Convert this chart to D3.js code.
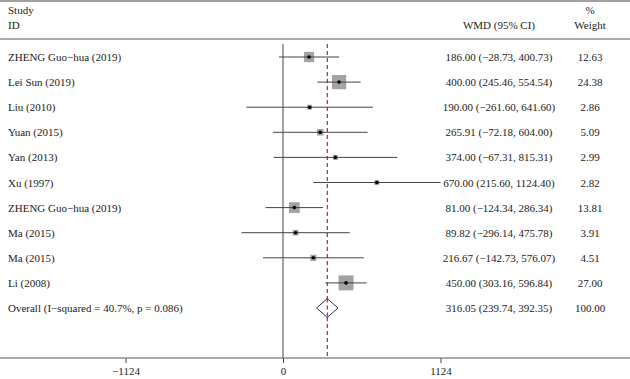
<!DOCTYPE html>
<html><head><meta charset="utf-8">
<script src="https://cdn.jsdelivr.net/npm/d3@7"></script>
<style>body{margin:0;background:#fff}svg{display:block}text{font-family:"Liberation Serif","DejaVu Serif",serif;font-size:11px;fill:#222}</style>
</head><body><svg id="c" width="630" height="379"></svg>
<script>
const studies = ["ZHENG Guo\u2212hua (2019)","Lei Sun (2019)","Liu (2010)","Yuan (2015)","Yan (2013)","Xu (1997)","ZHENG Guo\u2212hua (2019)","Ma (2015)","Ma (2015)","Li (2008)"];
const wmd = [186.00,400.00,190.00,265.91,374.00,670.00,81.00,89.82,216.67,450.00];
const lower = [-28.73,245.46,-261.60,-72.18,-67.31,215.60,-124.34,-296.14,-142.73,303.16];
const upper = [400.73,554.54,641.60,604.00,815.31,1124.40,286.34,475.78,576.07,596.84];
const weights = [12.63,24.38,2.86,5.09,2.99,2.82,13.81,3.91,4.51,27.00];
const overall = {label:"Overall (I\u2212squared = 40.7%, p = 0.086)", est:316.05, lo:239.74, hi:392.35, w:100.00};
const tickValues = [-1124,0,1124];

const svg = d3.select("#c");
const fmt = v => (v<0?"\u2212":"") + Math.abs(v).toFixed(2);
const x = d3.scaleLinear().domain([-1124,1124]).range([125.5,440.5]);
const rowIdx = d3.range(studies.length+1);
const y = d3.scalePoint().domain(rowIdx).range([57,308]);
const size = d3.scaleSqrt().domain([0,27]).range([0,15]);

// frame lines
svg.append("line").attr("x1",0).attr("x2",630).attr("y1",1).attr("y2",1).attr("stroke","#444").attr("stroke-width",1.2);
svg.append("line").attr("x1",0).attr("x2",630).attr("y1",39).attr("y2",39).attr("stroke","#555").attr("stroke-width",1);

// headers
svg.append("text").attr("x",8).attr("y",14).text("Study");
svg.append("text").attr("x",8).attr("y",29).text("ID");
svg.append("text").attr("x",499).attr("y",29).attr("text-anchor","middle").text("WMD (95% CI)");
svg.append("text").attr("x",590).attr("y",14).attr("text-anchor","middle").text("%");
svg.append("text").attr("x",590).attr("y",29).attr("text-anchor","middle").text("Weight");

// axis
const axisY = 358;
const ax = svg.append("g").attr("transform",`translate(0,${axisY})`)
  .call(d3.axisBottom(x).tickValues(tickValues).tickFormat(d=>d<0?"\u2212"+Math.abs(d):d).tickSize(5).tickPadding(4));
ax.select(".domain").remove();
ax.selectAll(".tick line").attr("stroke","#444");
ax.selectAll(".tick text").style("font-family","Liberation Serif, serif").style("font-size","11px").attr("fill","#222");
svg.append("line").attr("x1",0).attr("x2",630).attr("y1",axisY).attr("y2",axisY).attr("stroke","#555").attr("stroke-width",1);

// zero line & overall dashed line
svg.append("line").attr("x1",x(0)).attr("x2",x(0)).attr("y1",44).attr("y2",axisY).attr("stroke","#666").attr("stroke-width",1.2);
svg.append("line").attr("x1",x(overall.est)).attr("x2",x(overall.est)).attr("y1",44).attr("y2",axisY)
  .attr("stroke","#8b2230").attr("stroke-width",1.1).attr("stroke-dasharray","4,3");

// study rows
const rows = svg.append("g").selectAll("g").data(studies.map((s,i)=>({s,i,e:wmd[i],lo:lower[i],hi:upper[i],w:weights[i]}))).join("g");
rows.append("text").attr("x",8).attr("y",d=>y(d.i)+4).text(d=>d.s);
rows.append("rect").attr("x",d=>x(d.e)-size(d.w)/2).attr("y",d=>y(d.i)-size(d.w)/2)
  .attr("width",d=>size(d.w)).attr("height",d=>size(d.w)).attr("fill","#a3a3a3");
rows.append("line").attr("x1",d=>x(d.lo)).attr("x2",d=>x(d.hi)).attr("y1",d=>y(d.i)).attr("y2",d=>y(d.i)).attr("stroke","#444").attr("stroke-width",1);
rows.append("circle").attr("cx",d=>x(d.e)).attr("cy",d=>y(d.i)).attr("r",1.8).attr("fill","#000");
rows.append("text").attr("x",499).attr("y",d=>y(d.i)+4).attr("text-anchor","middle").text(d=>`${fmt(d.e)} (${fmt(d.lo)}, ${fmt(d.hi)})`);
rows.append("text").attr("x",590).attr("y",d=>y(d.i)+4).attr("text-anchor","middle").text(d=>d.w.toFixed(2));

// overall
const oy = y(studies.length);
svg.append("text").attr("x",8).attr("y",oy+4).text(overall.label);
svg.append("path").attr("d",`M${x(overall.lo)},${oy}L${x(overall.est)},${oy-9.5}L${x(overall.hi)},${oy}L${x(overall.est)},${oy+9.5}Z`)
  .attr("fill","#fff").attr("stroke","#2e2e5e").attr("stroke-width",1);
svg.append("line").attr("x1",x(overall.est)).attr("x2",x(overall.est)).attr("y1",oy-9.5).attr("y2",oy+9.5)
  .attr("stroke","#8b2230").attr("stroke-width",1.1).attr("stroke-dasharray","4,3");
svg.append("text").attr("x",499).attr("y",oy+4).attr("text-anchor","middle").text(`${fmt(overall.est)} (${fmt(overall.lo)}, ${fmt(overall.hi)})`);
svg.append("text").attr("x",590).attr("y",oy+4).attr("text-anchor","middle").text(overall.w.toFixed(2));
</script></body></html>
